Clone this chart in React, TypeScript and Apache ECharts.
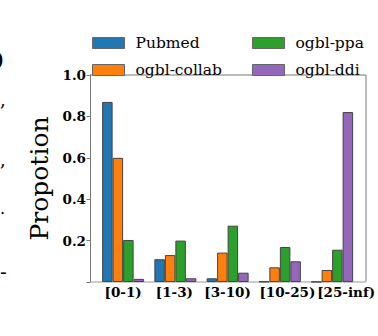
import React, { useEffect, useRef } from "react";
import * as echarts from "echarts";

const categories = ["[0-1)", "[1-3)", "[3-10)", "[10-25)", "[25-inf)"];
const seriesNames = ["Pubmed", "ogbl-collab", "ogbl-ppa", "ogbl-ddi"];
const pubmed = [0.87, 0.11, 0.018, 0.002, 0.001];
const collab = [0.6, 0.13, 0.142, 0.071, 0.058];
const ppa = [0.203, 0.2, 0.272, 0.169, 0.156];
const ddi = [0.015, 0.018, 0.045, 0.1, 0.821];
const colors = ["#1f77b4", "#ff7f0e", "#2ca02c", "#9467bd"];
const yTicks = [0, 0.2, 0.4, 0.6, 0.8, 1.0];

const FONT = "DejaVu Serif";
// horizontal shift (px) of each x label relative to its group centre, as in the reference
const labelShift = [0, -1, 0, 7.5, 14];

export default function App() {
  const ref = useRef<HTMLDivElement>(null);
  useEffect(() => {
    if (!ref.current) return;
    const chart = echarts.init(ref.current, null, { renderer: "svg" });
    const values = [pubmed, collab, ppa, ddi];
    const L = 90, R = 366, T = 75, B = 282;
    const rich: any = {};
    labelShift.forEach((s, i) => {
      rich["l" + i] = {
        fontFamily: FONT,
        fontSize: 13.5,
        fontWeight: "bold",
        color: "#000",
        padding: s >= 0 ? [0, 0, 0, 2 * s] : [0, -2 * s, 0, 0],
      };
    });
    const legendCommon = {
      orient: "vertical",
      top: 35,
      padding: 0,
      itemWidth: 32,
      itemHeight: 11,
      itemGap: 11,
      icon: "rect",
      itemStyle: { borderColor: "#666", borderWidth: 1 },
      textStyle: { fontFamily: FONT, fontSize: 15.5, color: "#000", padding: [0, 0, 0, 6] },
    };
    const option: any = {
      animation: false,
      grid: { left: 97, right: 378 - 359, top: T, bottom: 336 - B, containLabel: false },
      legend: [
        { ...legendCommon, data: [seriesNames[0], seriesNames[1]], left: 92 },
        { ...legendCommon, data: [seriesNames[2], seriesNames[3]], left: 252 },
      ],
      xAxis: {
        type: "category",
        data: categories,
        axisLine: { show: false },
        axisTick: { show: false },
        axisLabel: {
          margin: 3,
          interval: 0,
          formatter: (v: string, i: number) => `{l${i}|${v}}`,
          rich,
        },
      },
      yAxis: {
        type: "value",
        min: yTicks[0],
        max: yTicks[yTicks.length - 1],
        interval: 0.2,
        offset: 7,
        name: "Propotion",
        nameLocation: "middle",
        nameGap: 27,
        nameTextStyle: { fontFamily: FONT, fontSize: 25, color: "#000" },
        axisLine: { show: true, lineStyle: { color: "#777", width: 1 } },
        axisTick: { show: true, length: 3.5, lineStyle: { color: "#777" } },
        splitLine: { show: false },
        axisLabel: {
          fontFamily: FONT,
          fontSize: 13.5,
          fontWeight: "bold",
          color: "#000",
          margin: 4,
          formatter: (v: number) => (v === 0 ? "" : v.toFixed(1)),
        },
      },
      series: seriesNames.map((name, i) => ({
        name,
        type: "bar",
        data: values[i],
        barWidth: 10.5,
        barGap: "0%",
        itemStyle: { color: colors[i], borderColor: "#444", borderWidth: 1 },
      })),
      graphic: [
        { type: "line", shape: { x1: L, y1: T, x2: R, y2: T }, style: { stroke: "#777", lineWidth: 1 }, silent: true },
        { type: "line", shape: { x1: R, y1: T, x2: R, y2: B }, style: { stroke: "#777", lineWidth: 1 }, silent: true },
        { type: "line", shape: { x1: L, y1: B, x2: R, y2: B }, style: { stroke: "#bbb", lineWidth: 1.5 }, silent: true },
        { type: "text", x: -6, y: 48, style: { text: ")", font: `bold 22px ${FONT}`, fill: "#000" } },
        { type: "text", x: 0, y: 90, style: { text: ",", font: `18px ${FONT}`, fill: "#000" } },
        { type: "text", x: 0, y: 150, style: { text: ",", font: `18px ${FONT}`, fill: "#000" } },
        { type: "text", x: 0, y: 200, style: { text: ".", font: `16px ${FONT}`, fill: "#000" } },
        { type: "text", x: 0, y: 262, style: { text: "-", font: `20px ${FONT}`, fill: "#000" } },
      ],
    };
    chart.setOption(option);
    return () => chart.dispose();
  }, []);
  return (
    <div
      ref={ref}
      style={{ position: "fixed", left: 0, top: 0, width: 378, height: 336, background: "#fff" }}
    />
  );
}
